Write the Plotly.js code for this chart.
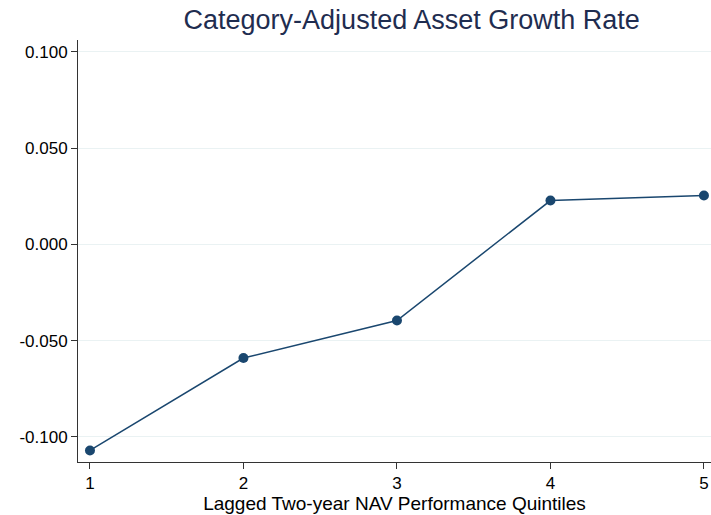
<!DOCTYPE html>
<html>
<head>
<meta charset="utf-8">
<script src="https://cdn.plot.ly/plotly-3.0.1.min.js"></script>
<style>
  body { margin: 0; background: #fff; }
  #plotArea { width: 711px; height: 515px; }
</style>
</head>
<body>
<div id="plotArea"></div>
<script>
var quintiles = [1, 2, 3, 4, 5];
var growthRate = [-0.107, -0.059, -0.0395, 0.0228, 0.0254];
var yTicks = [-0.1, -0.05, 0, 0.05, 0.1];
var yTickText = ["-0.100", "-0.050", "0.000", "0.050", "0.100"];

var trace = {
    x: quintiles,
    y: growthRate,
    mode: "lines+markers",
    type: "scatter",
    line: {color: "#1a476f", width: 1.5},
    marker: {color: "#1a476f", size: 10},
    cliponaxis: false
};

var layout = {
    width: 711,
    height: 515,
    margin: {l: 78, r: 0, t: 40, b: 53},
    paper_bgcolor: "#fff",
    plot_bgcolor: "#fff",
    showlegend: false,
    font: {family: "Liberation Sans, Arial, sans-serif", size: 16, color: "#000"},
    title: {
        text: "Category-Adjusted Asset Growth Rate",
        font: {size: 27, color: "#1f2d50"},
        x: 0.579, xanchor: "center",
        y: 0.963, yanchor: "middle"
    },
    xaxis: {
        range: [0.922, 5.046],
        tickvals: quintiles,
        ticks: "outside", ticklen: 6, tickcolor: "#333",
        showline: true, linecolor: "#333", linewidth: 1,
        showgrid: false, zeroline: false,
        tickfont: {size: 17},
        title: {text: "Lagged Two-year NAV Performance Quintiles", font: {size: 19}, standoff: 4}
    },
    yaxis: {
        range: [-0.113, 0.1062],
        tickvals: yTicks,
        ticktext: yTickText,
        ticks: "outside", ticklen: 6, tickcolor: "#333",
        showline: true, linecolor: "#333", linewidth: 1,
        showgrid: true, gridcolor: "#eaf2f3", gridwidth: 1,
        zeroline: false,
        tickfont: {size: 17}
    }
};

Plotly.newPlot("plotArea", [trace], layout, {displayModeBar: false});
</script>
</body>
</html>
